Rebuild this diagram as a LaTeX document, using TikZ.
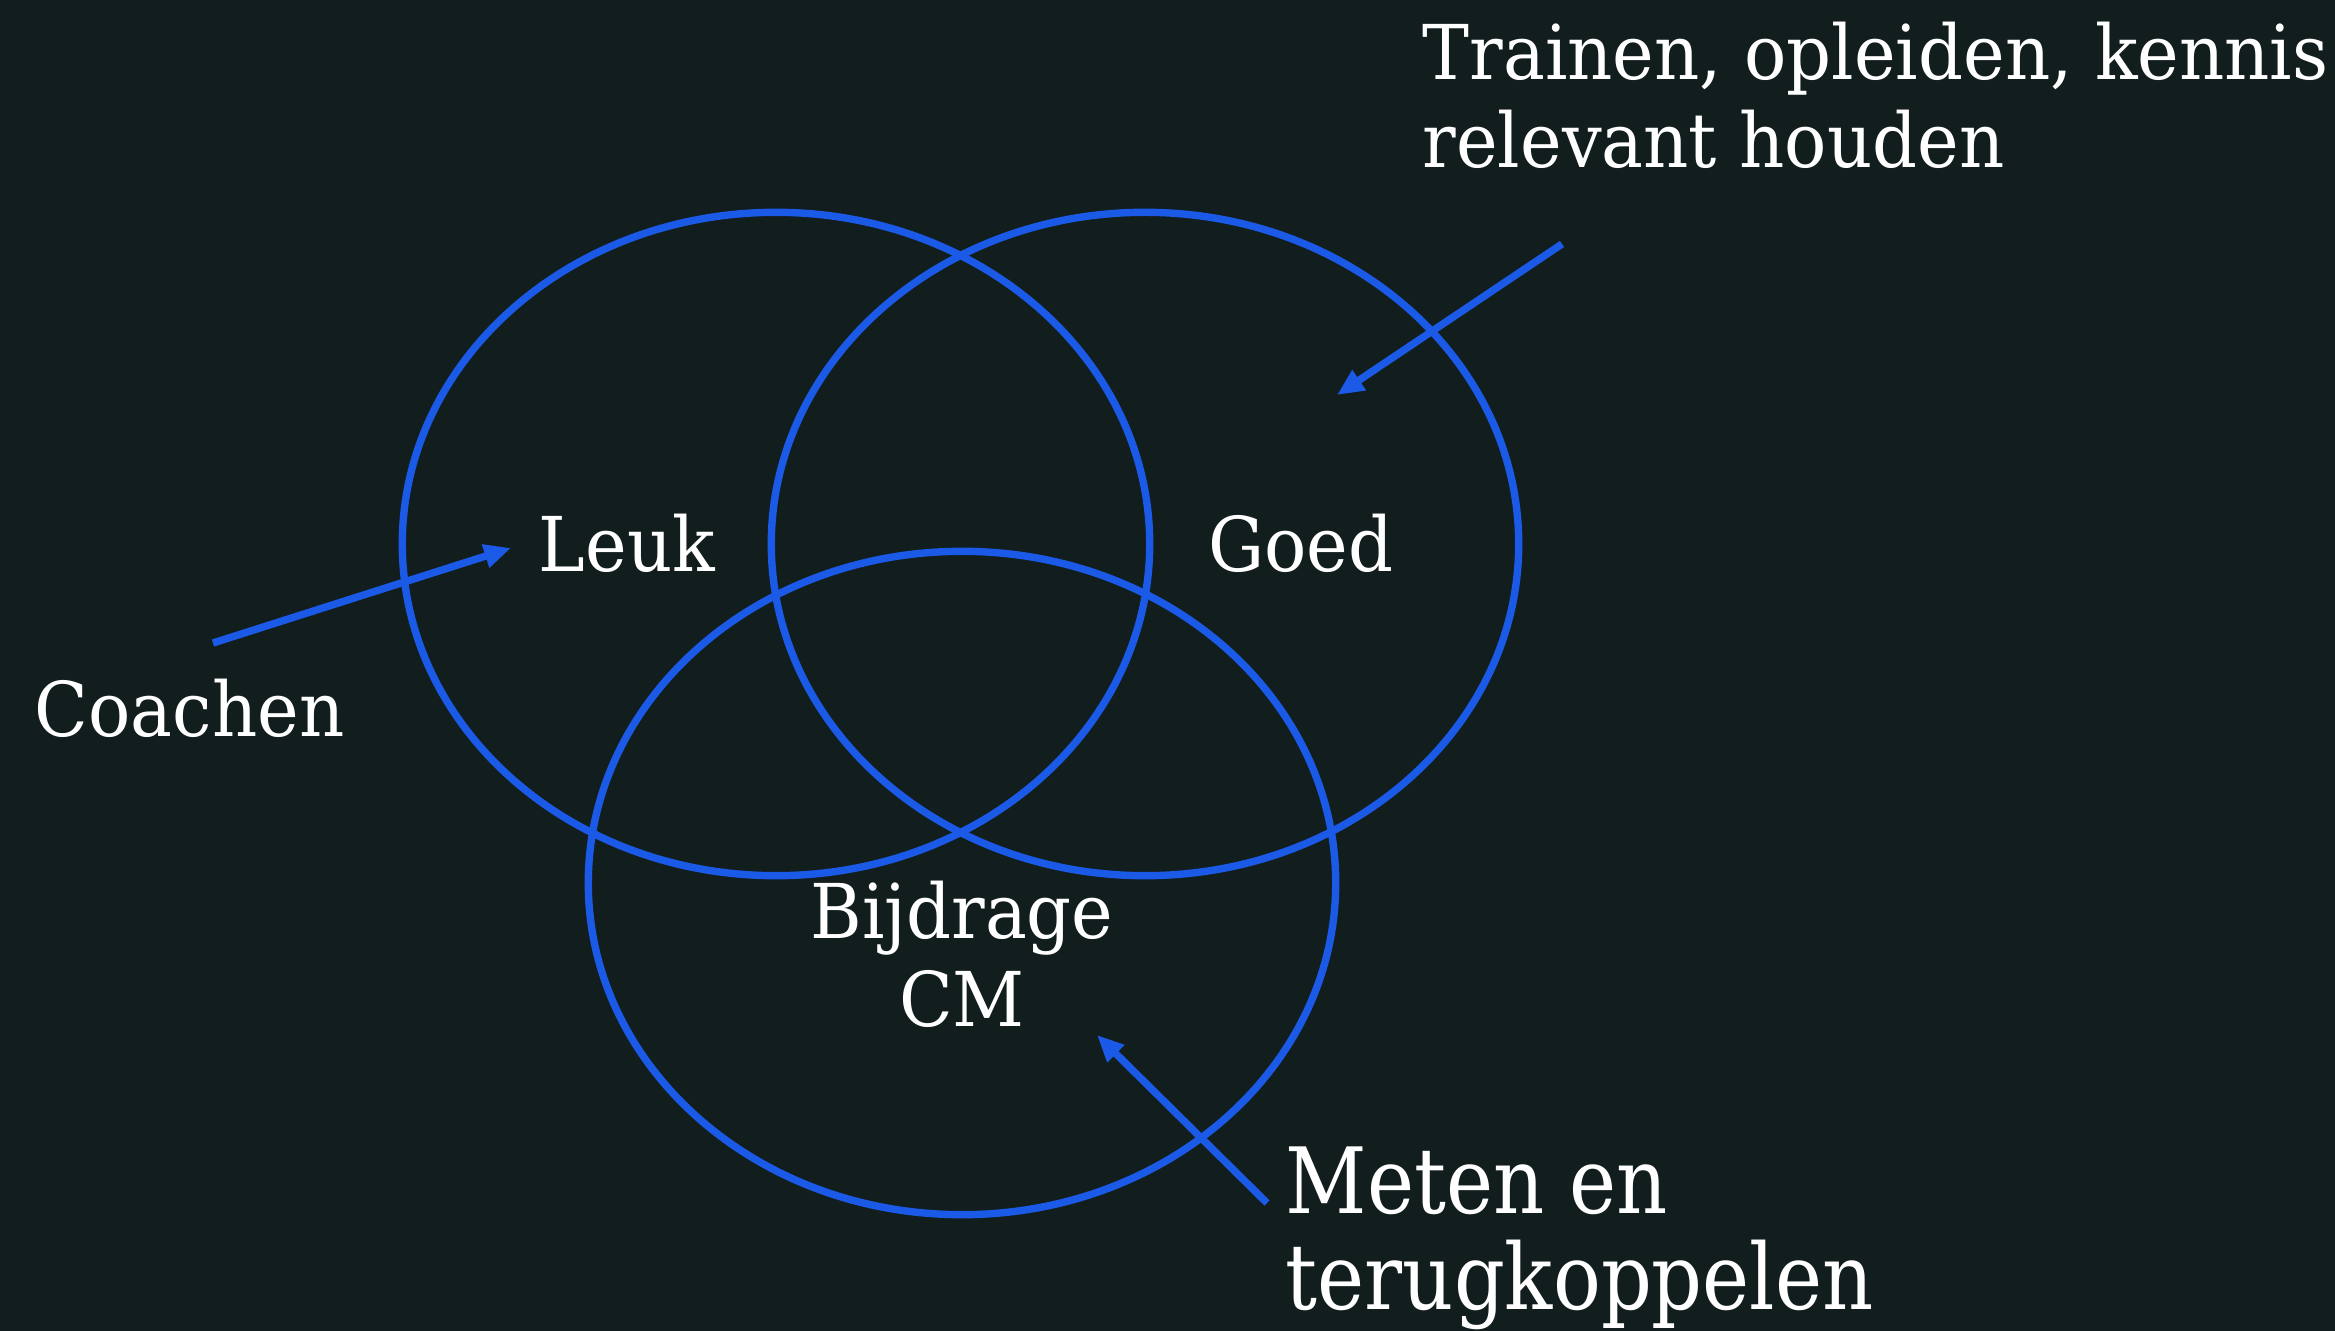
\documentclass[tikz,border=0pt]{standalone}
\usepackage{fontspec}
\setmainfont{DejaVu Serif}[FakeStretch=0.93]
\newfontfamily\narrowserif{DejaVu Serif}[FakeStretch=0.87]
\usetikzlibrary{arrows.meta,shapes.geometric}

\definecolor{bg}{HTML}{121D1E}
\definecolor{venn}{HTML}{1A5AE6}

\tikzset{
  ring/.style={draw=venn, line width=2.1pt, ellipse, minimum width=7.47cm, minimum height=6.63cm, inner sep=0pt},
  lbl/.style={text=white, inner sep=0pt, font=\fontsize{21.5}{25.3}\selectfont},
  biglbl/.style={lbl, font=\narrowserif\fontsize{26}{27.3}\selectfont},
  pointer/.style={draw=venn, line width=2.1pt, -{Triangle[length=7.6pt,width=6.5pt]}}
}

\begin{document}
\begin{tikzpicture}[x=0.01cm, y=-0.01cm]
            \fill[bg] (0,0) rectangle (2335,1331);
            \useasboundingbox (0,0) rectangle (2335,1331);

            % the three rings
            \node[ring] at (776, 544) (leukring) {};
            \node[ring] at (1145, 544) (goedring) {};
            \node[ring] at (962, 883) (cmring) {};

            % labels inside the rings (base = last line)
            \node[lbl, anchor=base] at (627, 572) (leuk) {Leuk};
            \node[lbl, anchor=base] at (1301, 572) (goed) {Goed};
            \node[lbl, anchor=base, align=center] at (962, 1027) (cm) {Bijdrage\\CM};

            % labels outside
            \node[lbl, anchor=base west] at (34, 737) (coachen) {Coachen};
            \node[lbl, anchor=base west, align=left] at (1422, 168) (trainen) {Trainen, opleiden, kennis\\relevant houden};
            \node[biglbl, anchor=base west, align=left] at (1285, 1310) (meten) {Meten en\\terugkoppelen};

            % arrow ends
            \coordinate (coachstart) at (213, 643);
            \coordinate (coachtip) at (511, 548);
            \coordinate (trainstart) at (1562, 244);
            \coordinate (traintip) at (1337, 395);
            \coordinate (metenstart) at (1267, 1203);
            \coordinate (metentip) at (1097, 1035);

            \draw[pointer] (coachstart) -- (coachtip);
            \draw[pointer] (trainstart) -- (traintip);
            \draw[pointer] (metenstart) -- (metentip);
    \end{tikzpicture}
\end{document}
